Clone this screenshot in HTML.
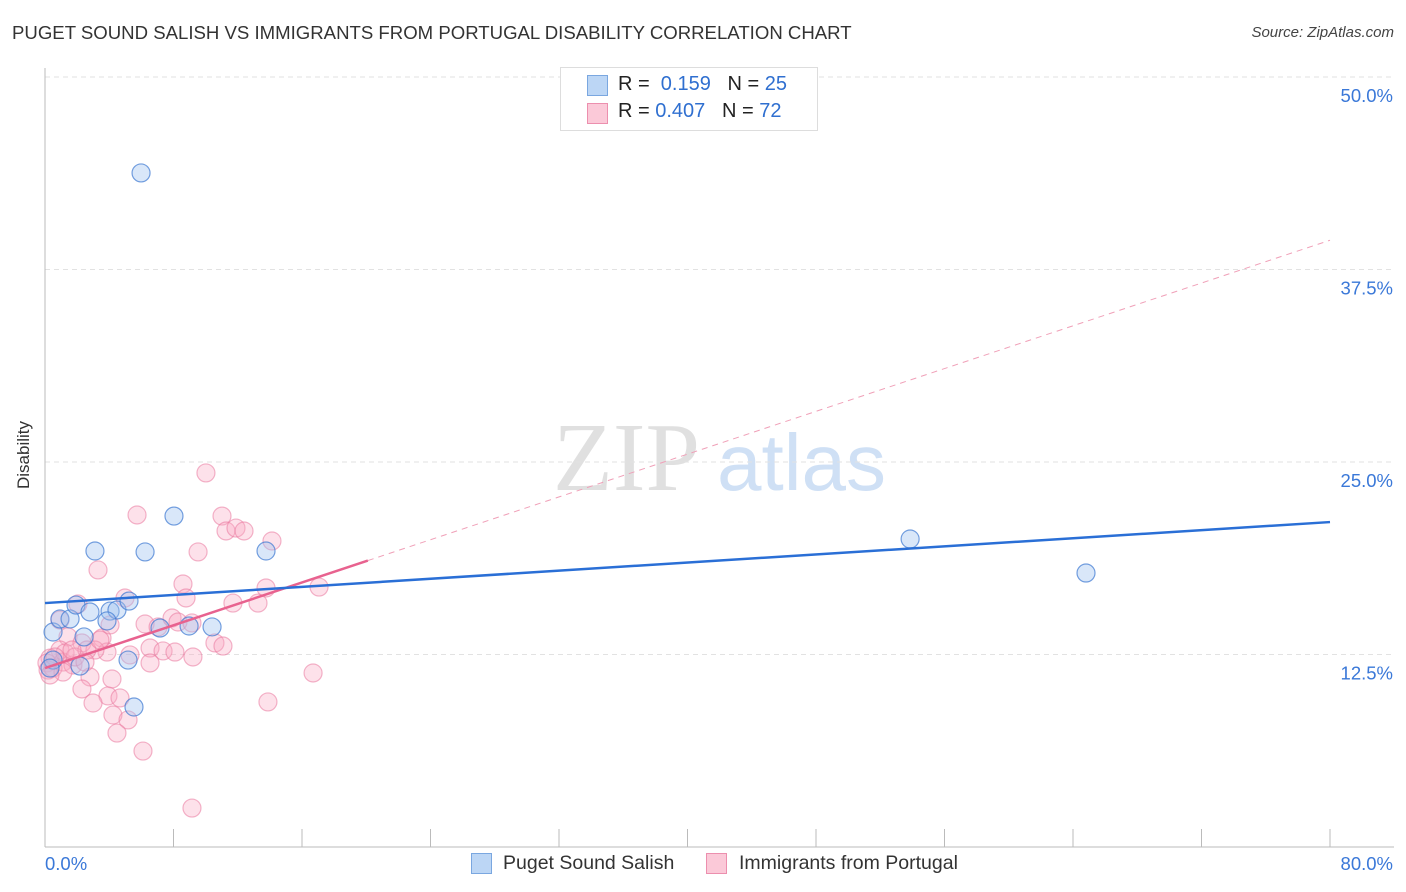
<!DOCTYPE html>
<html><head><meta charset="utf-8">
<style>
body{margin:0;background:#fff;font-family:"Liberation Sans",sans-serif;}
#wrap{position:relative;width:1406px;height:892px;overflow:hidden;}
.t{position:absolute;white-space:nowrap;}
</style></head>
<body>
<div id="wrap">
<div class="t" style="left:12px;top:22px;font-size:18.6px;color:#333;">PUGET SOUND SALISH VS IMMIGRANTS FROM PORTUGAL DISABILITY CORRELATION CHART</div>
<div class="t" style="right:12px;top:24px;font-size:15px;color:#444;font-style:italic;">Source: ZipAtlas.com</div>
<div class="t" style="left:-10px;top:445px;font-size:17px;color:#333;transform:rotate(-90deg);">Disability</div>
<svg id="svg" width="1406" height="892" style="position:absolute;left:0;top:0"></svg>
<div style="position:absolute;left:560px;top:67px;width:256px;height:62px;border:1px solid #ddd;background:#fff;"></div>
<div style="position:absolute;left:587px;top:75px;width:19px;height:19px;background:#bcd6f5;border:1px solid #7aa7e0;"></div>
<div style="position:absolute;left:587px;top:103px;width:19px;height:19px;background:#fbc9d8;border:1px solid #ec8fae;"></div>
<div class="t" style="left:618px;top:73px;font-size:20px;color:#222;">R = &nbsp;<span style="color:#2f6fd0">0.159</span> &nbsp;&nbsp;N = <span style="color:#2f6fd0">25</span></div>
<div class="t" style="left:618px;top:100px;font-size:20px;color:#222;">R = <span style="color:#2f6fd0">0.407</span> &nbsp;&nbsp;N = <span style="color:#2f6fd0">72</span></div>
<div style="position:absolute;left:471px;top:853px;width:19px;height:19px;background:#bcd6f5;border:1px solid #7aa7e0;"></div>
<div class="t" style="left:503px;top:852px;font-size:19.5px;color:#333;">Puget Sound Salish</div>
<div style="position:absolute;left:706px;top:853px;width:19px;height:19px;background:#fbc9d8;border:1px solid #ec8fae;"></div>
<div class="t" style="left:739px;top:852px;font-size:19.5px;color:#333;">Immigrants from Portugal</div>
</div>
<script>
const xTickLabels=["0.0%","80.0%"];
const yTicks=[12.5,25,37.5,50];
const yTickLabels=["12.5%","25.0%","37.5%","50.0%"];
const blueX=[5.98,8.03,3.11,6.23,13.76,53.86,64.81,0.50,0.93,1.56,1.93,2.80,4.05,4.48,3.86,5.23,2.43,8.97,10.40,5.17,2.18,5.54,0.50,7.16,0.31];
const blueY=[43.77,21.49,19.22,19.16,19.22,20.0,17.79,13.96,14.81,14.81,15.71,15.26,15.32,15.39,14.68,15.97,13.64,14.35,14.29,12.14,11.75,9.09,12.14,14.22,11.62];
const pinkX=[10.02,5.73,11.02,11.27,11.89,12.39,14.13,9.53,3.30,8.59,8.78,13.76,17.06,11.70,13.26,4.98,2.05,0.93,6.23,7.04,7.91,8.28,9.15,10.58,11.08,1.43,3.55,2.30,6.54,7.35,8.09,9.21,6.54,3.86,3.11,0.93,0.31,1.12,1.74,16.69,2.80,4.17,2.30,3.92,4.67,2.99,13.88,4.23,5.17,4.48,6.10,9.15,0.12,0.19,0.50,1.25,0.62,1.87,2.61,1.68,1.12,0.31,2.49,3.42,4.05,5.29];
const pinkY=[24.29,21.56,21.49,20.52,20.71,20.52,19.87,19.16,17.99,17.08,16.17,16.82,16.88,15.84,15.84,16.17,15.78,14.74,14.48,14.29,14.87,14.61,14.55,13.25,13.05,13.64,13.57,13.25,12.92,12.73,12.66,12.34,11.95,12.66,12.79,12.79,12.27,12.01,11.82,11.30,11.04,10.91,10.26,9.81,9.68,9.35,9.42,8.57,8.25,7.40,6.23,2.53,11.95,11.49,11.62,12.60,12.34,12.34,12.79,12.79,11.36,11.17,12.01,13.44,14.42,12.47];
const blueTrend=[15.84,21.1];
const pinkTrend=[11.62,39.4];
const pinkSolidEnd=[20.1];

const X0=45,X1=1330,Y0=847,PX=15.4;
function sx(v){return X0+(v/80)*(X1-X0);}
function sy(v){return Y0-v*PX;}
const svg=document.getElementById('svg');
const NS='http://www.w3.org/2000/svg';
function mk(tag,attrs){const e=document.createElementNS(NS,tag);for(const k in attrs)e.setAttribute(k,attrs[k]);svg.appendChild(e);return e;}

let w1=mk('text',{x:553,y:490,'font-size':98,fill:'#e0e0e0','font-family':'Liberation Serif, serif'});w1.textContent='ZIP';


let w2=mk('text',{x:717,y:490,'font-size':80,fill:'#cfe0f5','font-family':'Liberation Sans, sans-serif'});w2.textContent='atlas';



yTicks.forEach((v,i)=>{
  const g=mk('line',{x1:X0,x2:1394,y1:sy(v),y2:sy(v),stroke:'#e2e2e2','stroke-dasharray':'5,4'});
  
  
  const t=mk('text',{x:1393,y:sy(v)+25,'text-anchor':'end','font-size':18.5,fill:'#3a78d8'});
  t.textContent=yTickLabels[i];
  
  
});
let ax=mk('line',{x1:X0,x2:X0,y1:68,y2:847,stroke:'#bbb'});


let bx=mk('line',{x1:X0,x2:1394,y1:847,y2:847,stroke:'#bbb'});


for(let i=0;i<=10;i++){
  const x=X0+i*(X1-X0)/10;
  const tk=mk('line',{x1:x,x2:x,y1:829,y2:847,stroke:'#bbb'});
  
  
}
let xl0=mk('text',{x:45,y:870,'font-size':18.5,fill:'#3a78d8'});xl0.textContent=xTickLabels[0];


let xl1=mk('text',{x:1393,y:870,'text-anchor':'end','font-size':18.5,fill:'#3a78d8'});xl1.textContent=xTickLabels[1];



pinkX.forEach((v,i)=>{
  const c=mk('circle',{cx:sx(v),cy:sy(pinkY[i]),r:9,fill:'rgba(248,170,195,0.35)',stroke:'rgba(234,120,158,0.55)','stroke-width':1.2});
  
  
});
blueX.forEach((v,i)=>{
  const c=mk('circle',{cx:sx(v),cy:sy(blueY[i]),r:9,fill:'rgba(160,195,240,0.4)',stroke:'rgba(60,120,210,0.7)','stroke-width':1.2});
  
  
});
function ty(tr,x){return tr[0]+(tr[1]-tr[0])*x/80;}
let pd=mk('line',{x1:sx(pinkSolidEnd[0]),y1:sy(ty(pinkTrend,pinkSolidEnd[0])),x2:sx(80),y2:sy(ty(pinkTrend,80)),stroke:'#f0a0b8','stroke-width':1,'stroke-dasharray':'6,5'});


let ps=mk('line',{x1:sx(0),y1:sy(ty(pinkTrend,0)),x2:sx(pinkSolidEnd[0]),y2:sy(ty(pinkTrend,pinkSolidEnd[0])),stroke:'#e8628f','stroke-width':2.5});


let bl=mk('line',{x1:sx(0),y1:sy(ty(blueTrend,0)),x2:sx(80),y2:sy(ty(blueTrend,80)),stroke:'#2a6fd6','stroke-width':2.5});


</script>
</body></html>
